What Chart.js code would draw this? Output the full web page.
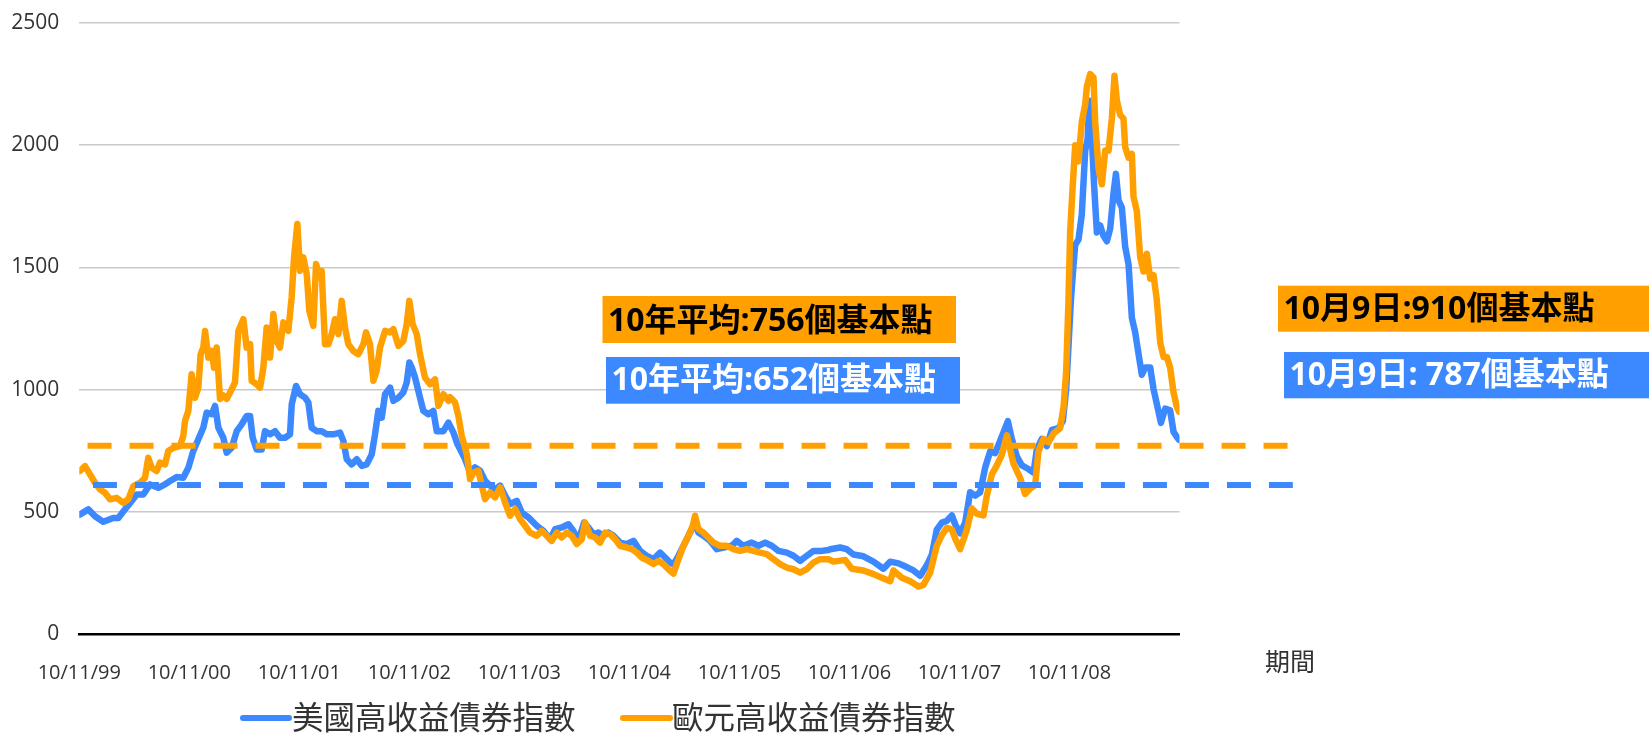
<!DOCTYPE html>
<html lang="zh-Hant">
<head>
<meta charset="utf-8">
<title>美國與歐元高收益債券指數</title>
<script src="https://cdn.jsdelivr.net/npm/chart.js@4.4.1/dist/chart.umd.min.js"></script>
<style>
    html, body { margin: 0; padding: 0; background: #fff; }
    #wrap { position: relative; width: 1649px; height: 734px; }
</style>
</head>
<body>
<div id="wrap"><canvas id="spreadChart"></canvas></div>
<script>
// x values are years since 10/11/99
const xTickLabels = ['10/11/99', '10/11/00', '10/11/01', '10/11/02', '10/11/03',
                     '10/11/04', '10/11/05', '10/11/06', '10/11/07', '10/11/08'];
const yTicks = [0, 500, 1000, 1500, 2000, 2500];
const seriesNames = ['美國高收益債券指數', '歐元高收益債券指數'];

const usSpread = [
    [0.006,489],[0.082,510],[0.143,482],[0.218,459],[0.309,475],[0.355,475],[0.415,510],[0.476,544],
    [0.522,571],[0.582,571],[0.643,612],[0.718,598],[0.779,612],[0.825,626],[0.885,642],[0.945,639],
    [0.991,680],[1.036,749],[1.082,797],[1.127,844],[1.158,906],[1.204,899],[1.234,933],[1.264,844],
    [1.309,803],[1.340,742],[1.385,762],[1.431,830],[1.476,858],[1.522,892],[1.552,892],[1.576,803],
    [1.612,755],[1.658,755],[1.688,830],[1.734,817],[1.779,830],[1.824,803],[1.870,803],[1.915,817],
    [1.931,940],[1.970,1015],[2.006,981],[2.052,967],[2.082,947],[2.112,844],[2.158,830],[2.204,830],
    [2.249,817],[2.309,817],[2.370,824],[2.400,790],[2.431,715],[2.476,694],[2.522,715],[2.567,688],
    [2.612,694],[2.658,735],[2.688,817],[2.718,913],[2.749,885],[2.779,981],[2.825,1008],[2.855,954],
    [2.900,967],[2.945,988],[2.976,1029],[3.000,1111],[3.022,1090],[3.052,1049],[3.097,967],[3.127,913],
    [3.173,899],[3.218,913],[3.249,830],[3.309,830],[3.355,865],
    [3.400,825],[3.437,777],[3.506,716],[3.552,661],[3.597,682],[3.643,668],[3.688,627],[3.734,607],
    [3.779,593],[3.825,607],[3.870,566],[3.915,531],[3.976,545],[4.022,497],[4.082,477],[4.158,443],
    [4.218,422],[4.279,388],[4.325,429],[4.385,436],[4.446,449],[4.491,422],[4.537,381],[4.588,456],
    [4.627,436],[4.673,408],[4.718,415],[4.764,402],[4.809,415],[4.855,402],[4.915,374],[4.976,368],
    [5.037,381],[5.097,340],[5.158,320],[5.218,306],[5.279,333],[5.325,313],[5.370,292],[5.400,285],
    [5.446,320],[5.506,374],[5.552,415],[5.597,456],[5.627,415],[5.673,402],[5.734,381],[5.794,347],
    [5.855,354],[5.931,361],[5.976,381],[6.036,361],[6.112,374],[6.173,361],[6.234,374],[6.294,361],
    [6.355,340],[6.431,333],[6.491,320],[6.552,299],[6.612,320],[6.673,340],[6.749,340],[6.809,344],
    [6.825,347],[6.915,354],[6.976,347],[7.037,325],[7.127,318],[7.218,296],[7.309,267],[7.370,296],
    [7.446,289],[7.521,274],[7.582,260],[7.643,238],[7.703,281],[7.749,325],[7.794,427],[7.840,456],
    [7.885,463],[7.931,485],[7.961,449],[8.006,412],[8.052,456],[8.097,580],[8.143,566],[8.188,580],
    [8.234,682],[8.279,747],[8.325,740],[8.370,791],[8.415,842],[8.440,871],[8.476,798],[8.522,726],
    [8.567,690],[8.627,675],[8.673,660],[8.703,755],[8.749,798],[8.794,769],[8.840,835],[8.900,842],
    [8.940,871],[8.970,1002],[8.991,1177],[9.013,1366],[9.037,1512],[9.052,1592],[9.082,1614],[9.112,1716],
    [9.143,1978],[9.164,2022],[9.182,2182],[9.203,2036],[9.224,1833],[9.249,1643],[9.279,1672],[9.309,1629],
    [9.340,1607],[9.370,1658],[9.400,1803],[9.422,1883],[9.446,1774],[9.476,1745],[9.506,1585],[9.537,1512],
    [9.567,1294],[9.597,1235],[9.627,1148],[9.658,1061],[9.688,1090],[9.734,1090],[9.764,1002],[9.800,929],
    [9.831,864],[9.870,922],[9.915,915],[9.946,827],[9.976,806],[9.995,795]
];

const euSpread = [
    [0.006,667],[0.052,687],[0.097,653],[0.143,619],[0.188,592],[0.233,578],[0.279,551],[0.339,557],
    [0.400,537],[0.445,551],[0.491,605],[0.552,619],[0.597,639],[0.627,721],[0.658,680],[0.703,667],
    [0.733,701],[0.779,694],[0.809,749],[0.855,762],[0.915,769],[0.945,810],[0.961,872],[0.991,913],
    [1.021,1063],[1.052,967],[1.082,1008],[1.103,1145],[1.127,1172],[1.143,1240],[1.173,1131],[1.204,1158],
    [1.224,1090],[1.249,1172],[1.279,962],[1.309,976],[1.340,962],[1.385,1001],[1.415,1029],[1.446,1240],
    [1.491,1288],[1.521,1172],[1.552,1186],[1.567,1036],[1.612,1022],[1.643,1008],[1.673,1090],[1.703,1254],
    [1.734,1131],[1.764,1309],[1.794,1199],[1.824,1172],[1.855,1275],[1.900,1240],[1.930,1377],[1.952,1541],
    [1.982,1678],[2.006,1486],[2.036,1541],[2.067,1473],[2.091,1322],[2.127,1261],[2.152,1514],[2.182,1459],
    [2.203,1486],[2.233,1186],[2.264,1186],[2.294,1227],[2.324,1288],[2.355,1227],[2.385,1363],[2.415,1254],
    [2.445,1186],[2.491,1158],[2.536,1145],[2.582,1186],[2.606,1234],[2.642,1186],[2.673,1036],[2.703,1077],
    [2.733,1172],[2.779,1240],[2.824,1234],[2.855,1247],[2.900,1179],[2.945,1199],[2.976,1268],[3.000,1363],
    [3.030,1268],[3.067,1227],[3.097,1145],[3.142,1049],[3.188,1022],[3.233,1042],[3.264,934],[3.309,981],
    [3.355,954],
    [3.370,969],[3.415,948],[3.445,893],[3.476,811],[3.522,736],[3.552,634],[3.582,661],[3.627,668],
    [3.658,607],[3.688,552],[3.734,579],[3.779,559],[3.825,600],[3.870,538],[3.915,484],[3.961,511],
    [4.006,470],[4.052,443],[4.097,415],[4.158,402],[4.203,422],[4.249,402],[4.294,381],[4.340,415],
    [4.385,395],[4.431,415],[4.476,402],[4.522,368],[4.567,388],[4.597,456],[4.643,402],[4.688,395],
    [4.734,374],[4.779,415],[4.825,408],[4.870,388],[4.915,361],[4.976,354],[5.022,347],[5.067,333],
    [5.112,313],[5.173,299],[5.218,286],[5.264,299],[5.309,286],[5.355,265],[5.400,247],[5.446,306],
    [5.491,361],[5.537,402],[5.576,443],[5.597,484],[5.627,429],[5.673,415],[5.718,395],[5.764,374],
    [5.824,361],[5.885,361],[5.946,347],[6.006,340],[6.067,347],[6.128,340],[6.188,333],[6.249,327],
    [6.309,306],[6.370,286],[6.431,272],[6.491,265],[6.552,251],[6.612,265],[6.673,292],[6.734,306],
    [6.809,306],
    [6.855,296],[6.961,303],[7.021,267],[7.127,260],[7.218,245],[7.294,230],[7.370,216],[7.400,260],
    [7.476,230],[7.552,216],[7.627,194],[7.673,201],[7.734,252],[7.794,361],[7.840,405],[7.885,434],
    [7.931,427],[7.961,390],[8.006,347],[8.067,427],[8.112,514],[8.158,492],[8.218,485],[8.249,566],
    [8.294,653],[8.340,690],[8.385,733],[8.431,813],[8.461,755],[8.491,697],[8.552,638],[8.597,573],
    [8.643,595],[8.688,609],[8.718,747],[8.764,798],[8.809,784],[8.855,820],[8.915,842],[8.946,929],
    [8.970,1075],[8.991,1366],[9.006,1643],[9.031,1847],[9.052,2000],[9.082,1934],[9.112,2095],[9.143,2167],
    [9.158,2240],[9.188,2291],[9.218,2277],[9.234,2095],[9.264,1905],[9.294,1840],[9.325,1978],[9.355,1978],
    [9.385,2109],[9.409,2284],[9.431,2182],[9.461,2124],[9.491,2109],[9.506,1993],[9.537,1949],[9.567,1964],
    [9.582,1789],[9.612,1731],[9.643,1541],[9.673,1483],[9.703,1556],[9.734,1454],[9.764,1468],[9.794,1366],
    [9.825,1192],[9.855,1133],[9.885,1133],[9.915,1090],[9.946,988],[9.976,929],[9.995,910]
];

// dashed average levels and the x range they run over
const usAverage = 610;
const euAverage = 770;
const usAverageSpan = [0.124, 11.03];
const euAverageSpan = [0.075, 10.985];

const noteTexts = ['10年平均:756個基本點', '10年平均:652個基本點', '10月9日:910個基本點', '10月9日: 787個基本點'];
const axisCaption = '期間';

const ORANGE = '#FFA000';
const BLUE = '#3B88FF';

const toPoints = arr => arr.map(([x, y]) => ({ x, y }));

// text boxes, legend and axis caption drawn on top of the chart
const notesPlugin = {
    id: 'notes',
    afterDraw(chart) {
        const { ctx } = chart;
        const boxes = [
            { text: noteTexts[0], bg: ORANGE, fg: '#000', x: 602.5, y: 296, w: 353.5, h: 47, ty: 322 },
            { text: noteTexts[1], bg: BLUE, fg: '#fff', x: 606, y: 357, w: 354, h: 46.7, ty: 381 },
            { text: noteTexts[2], bg: ORANGE, fg: '#000', x: 1278, y: 285.7, w: 371, h: 46, ty: 310 },
            { text: noteTexts[3], bg: BLUE, fg: '#fff', x: 1284, y: 352, w: 365, h: 46.3, ty: 376 }
        ];
        ctx.save();
        ctx.textBaseline = 'middle';
        ctx.textAlign = 'left';
        boxes.forEach(b => {
            ctx.fillStyle = b.bg;
            ctx.fillRect(b.x, b.y, b.w, b.h);
            ctx.fillStyle = b.fg;
            ctx.font = 'bold 32px "Open Sans", "Noto Sans CJK TC"';
            ctx.fillText(b.text, b.x + 5.5, b.ty);
        });

        // x axis caption
        ctx.fillStyle = '#333';
        ctx.font = '25px "Noto Sans CJK TC"';
        ctx.textAlign = 'center';
        ctx.fillText(axisCaption, 1290, 661);

        // legend
        const items = [
            { name: seriesNames[0], color: BLUE, x0: 243, x1: 289, tx: 292 },
            { name: seriesNames[1], color: ORANGE, x0: 623, x1: 670, tx: 672 }
        ];
        const ly = 718;
        ctx.textAlign = 'left';
        ctx.font = '31.5px "Noto Sans CJK TC"';
        items.forEach(it => {
            ctx.strokeStyle = it.color;
            ctx.lineWidth = 6;
            ctx.lineCap = 'round';
            ctx.beginPath();
            ctx.moveTo(it.x0, ly);
            ctx.lineTo(it.x1, ly);
            ctx.stroke();
            ctx.fillStyle = '#333';
            ctx.fillText(it.name, it.tx, ly - 1);
        });
        ctx.restore();
    }
};

document.addEventListener('DOMContentLoaded', () => {
    const ctx = document.getElementById('spreadChart').getContext('2d');
    new Chart(ctx, {
        type: 'line',
        data: {
            datasets: [
                {
                    label: seriesNames[1],
                    data: toPoints(euSpread),
                    borderColor: ORANGE,
                    borderWidth: 6.5,
                    order: 1
                },
                {
                    label: seriesNames[0],
                    data: toPoints(usSpread),
                    borderColor: BLUE,
                    borderWidth: 6.5,
                    order: 2
                },
                {
                    label: '',
                    data: euAverageSpan.map(x => ({ x, y: euAverage })),
                    borderColor: ORANGE,
                    borderWidth: 6,
                    borderDash: [24, 18],
                    borderCapStyle: 'butt',
                    clip: false,
                    order: 0
                },
                {
                    label: '',
                    data: usAverageSpan.map(x => ({ x, y: usAverage })),
                    borderColor: BLUE,
                    borderWidth: 6,
                    borderDash: [24, 18],
                    borderCapStyle: 'butt',
                    clip: false,
                    order: 0
                }
            ]
        },
        options: {
            responsive: true,
            maintainAspectRatio: false,
            animation: false,
            layout: { padding: { left: 0, right: 469.5, top: 23, bottom: 32 } },
            elements: {
                point: { radius: 0, hoverRadius: 0 },
                line: { tension: 0, borderJoinStyle: 'round', borderCapStyle: 'round' }
            },
            plugins: {
                legend: { display: false },
                tooltip: { enabled: false }
            },
            scales: {
                x: {
                    type: 'linear',
                    min: 0,
                    max: 10,
                    grid: { display: false, drawTicks: false },
                    border: { display: true, color: '#000', width: 2.5 },
                    afterBuildTicks: s => { s.ticks = xTickLabels.map((_, i) => ({ value: i })); },
                    afterFit: s => { s.height = 68; },
                    ticks: {
                        autoSkip: false,
                        maxRotation: 0,
                        padding: 27,
                        color: '#333',
                        font: { family: 'Open Sans', size: 20 },
                        callback: v => xTickLabels[v] ?? ''
                    }
                },
                y: {
                    min: 0,
                    max: 2500,
                    grid: {
                        color: c => (c.tick && c.tick.value === 0 ? 'rgba(0,0,0,0)' : '#c9c9c9'),
                        lineWidth: 1.5,
                        drawTicks: false
                    },
                    border: { display: false },
                    afterBuildTicks: s => { s.ticks = yTicks.map(v => ({ value: v })); },
                    afterFit: s => {
                        s.width = 79.3;
                        // tick padding should not push the plot down
                        s.paddingTop = 0;
                        s.paddingBottom = 0;
                    },
                    ticks: {
                        padding: 20,
                        color: '#333',
                        font: { family: 'Open Sans', size: 21 },
                        callback: v => String(v)
                    }
                }
            }
        },
        plugins: [notesPlugin]
    });
});
</script>
</body>
</html>
